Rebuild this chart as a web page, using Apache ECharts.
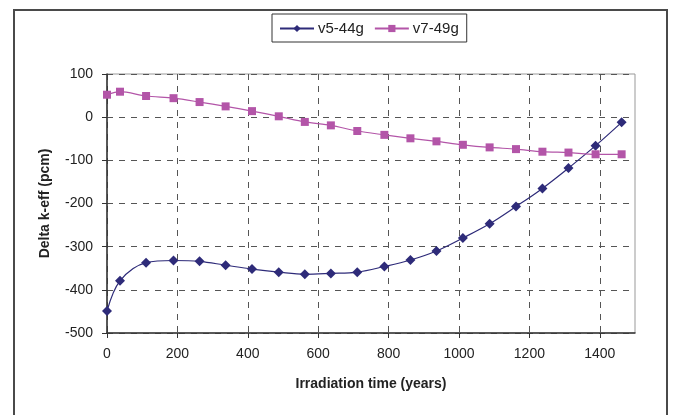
<!DOCTYPE html>
<html>
<head>
<meta charset="utf-8">
<style>
	html, body { margin: 0; padding: 0; background: #fff; }
	#chart { width: 675px; height: 415px; }
</style>
<script src="https://cdn.jsdelivr.net/npm/echarts@6/dist/echarts.min.js"></script>
</head>
<body>
<div id="chart"></div>
<script>
// irradiation time (years) of each calculated point
const years = [0, 37, 111, 189, 263, 337, 412, 488, 562, 636, 711, 788, 862, 936, 1011, 1087, 1162, 1237, 1311, 1388, 1462];
// delta k-eff (pcm)
const v5_44g = [-449, -379, -337, -332, -334, -343, -352, -359, -364, -362, -359, -346, -331, -310, -280, -247, -207, -165, -118, -66, -12];
const v7_49g = [52, 59, 49, 44, 35, 25, 14, 2, -11, -19, -32, -41, -49, -56, -64, -70, -74, -80, -82, -86, -86];

const font = "Liberation Sans, Arial, sans-serif";

function pairs(xs, ys) {
	return xs.map((x, i) => [x, ys[i]]);
}

const chart = echarts.init(document.getElementById("chart"));

chart.setOption({
	animation: false,
	backgroundColor: "#fff",
	textStyle: { fontFamily: font },
	graphic: [
		{
			type: "rect",
			shape: { x: 14, y: 10, width: 653, height: 420 },
			style: { fill: "none", stroke: "#4a4a4a", lineWidth: 2 },
			silent: true,
		},
	],
	legend: {
		left: 272,
		top: 14,
		padding: [7, 8, 6, 7],
		itemGap: 10,
		itemWidth: 34,
		itemHeight: 9,
		borderColor: "#333",
		borderWidth: 1,
		textStyle: { fontSize: 15, color: "#222", fontFamily: font, padding: [0, 0, 0, -1] },
		data: ["v5-44g", "v7-49g"],
	},
	grid: {
		left: 107,
		right: 40,
		top: 74,
		bottom: 82,
		show: true,
		borderColor: "#999",
		borderWidth: 1,
	},
	xAxis: {
		type: "value",
		min: 0,
		max: 1500,
		interval: 200,
		name: "Irradiation time (years)",
		nameLocation: "middle",
		nameGap: 44,
		nameTextStyle: { fontSize: 14, fontWeight: "bold", color: "#222" },
		axisLine: { onZero: false, lineStyle: { color: "#333", width: 1.5 } },
		axisTick: { show: true, length: 5, lineStyle: { color: "#333" } },
		axisLabel: {
			fontSize: 14,
			color: "#222",
			margin: 14,
			showMaxLabel: false,
			formatter: (v) => String(v),
		},
		splitLine: {
			show: true,
			showMaxLine: false,
			lineStyle: { color: "#555", type: [6, 6], width: 1 },
		},
	},
	yAxis: {
		type: "value",
		min: -500,
		max: 100,
		interval: 100,
		name: "Delta k-eff (pcm)",
		nameLocation: "middle",
		nameGap: 55,
		nameTextStyle: { fontSize: 14, fontWeight: "bold", color: "#222" },
		axisLine: { show: true, onZero: false, lineStyle: { color: "#333", width: 1.5 } },
		axisTick: { show: true, length: 5, lineStyle: { color: "#333" } },
		axisLabel: { fontSize: 14, color: "#222", margin: 14 },
		splitLine: {
			show: true,
			lineStyle: { color: "#555", type: [6, 6], width: 1 },
		},
	},
	series: [
		{
			name: "v5-44g",
			type: "line",
			smooth: 0.35,
			data: pairs(years, v5_44g),
			symbol: "diamond",
			symbolSize: 10,
			itemStyle: { color: "#2e2b79" },
			lineStyle: { color: "#2e2b79", width: 1.2 },
		},
		{
			name: "v7-49g",
			type: "line",
			smooth: 0.3,
			data: pairs(years, v7_49g),
			symbol: "rect",
			symbolSize: 8,
			itemStyle: { color: "#b355a8" },
			lineStyle: { color: "#b355a8", width: 1.2 },
		},
	],
});
</script>
</body>
</html>
